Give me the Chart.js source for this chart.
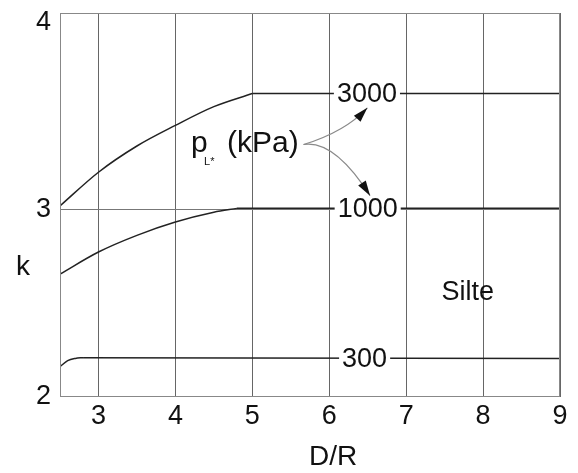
<!DOCTYPE html>
<html>
<head>
<meta charset="utf-8">
<script src="https://cdn.jsdelivr.net/npm/chart.js@4.4.0/dist/chart.umd.min.js"></script>
<style>
  html, body { margin: 0; padding: 0; background: #fff; }
  #wrap { width: 578px; height: 473px; }
</style>
</head>
<body>
<div id="wrap"><canvas id="myChart" width="578" height="473"></canvas></div>
<script>
// curves (D/R -> k); last two points of each are the flat part
var dr3000 = [2.5, 3, 3.5, 4, 4.5, 5, 9];
var k3000 = [3.02, 3.20, 3.34, 3.45, 3.55, 3.62, 3.62];
var dr1000 = [2.5, 3, 3.5, 4, 4.5, 4.8, 9];
var k1000 = [2.656, 2.774, 2.863, 2.934, 2.986, 3.007, 3.007];
var dr300 = [2.5, 2.6, 2.7, 2.8, 9];
var k300 = [2.162, 2.194, 2.206, 2.210, 2.205];

var xTicks = [3, 4, 5, 6, 7, 8, 9];
var yTicks = [2, 3, 4];

var curveNames = ['3000', '1000', '300'];
var labelAt = [6.49, 6.5, 6.46];

var FONT = '"Liberation Sans", Arial, sans-serif';

function pts(xs, ys) {
    return xs.map(function (v, i) { return {x: v, y: ys[i]}; });
}

function curve(xs, ys) {
    var n = xs.length;
    var all = pts(xs, ys);
    return [
        {data: all.slice(0, n - 1), cubicInterpolationMode: 'monotone'},
        {data: all.slice(n - 2)}
    ];
}

var sets = [].concat(curve(dr3000, k3000), curve(dr1000, k1000), curve(dr300, k300));
sets.forEach(function (s) {
    s.borderColor = '#222';
    s.borderWidth = 1.5;
    s.pointRadius = 0;
    s.fill = false;
});

function arrow(ctx, x0, y0, cx, cy, x1, y1) {
    ctx.strokeStyle = '#8a8a8a';
    ctx.lineWidth = 1.2;
    ctx.beginPath();
    ctx.moveTo(x0, y0);
    ctx.quadraticCurveTo(cx, cy, x1, y1);
    ctx.stroke();
    var a = Math.atan2(y1 - cy, x1 - cx);
    var len = 15, hw = 4.5;
    ctx.fillStyle = '#111';
    ctx.beginPath();
    ctx.moveTo(x1, y1);
    ctx.lineTo(x1 - len * Math.cos(a) + hw * Math.sin(a), y1 - len * Math.sin(a) - hw * Math.cos(a));
    ctx.lineTo(x1 - len * Math.cos(a) - hw * Math.sin(a), y1 - len * Math.sin(a) + hw * Math.cos(a));
    ctx.closePath();
    ctx.fill();
}

var overlay = {
    id: 'overlay',
    afterDatasetsDraw: function (chart) {
        var ctx = chart.ctx, a = chart.chartArea;
        var x = chart.scales.x, y = chart.scales.y;
        ctx.save();
        ctx.strokeStyle = '#888';
        ctx.lineWidth = 1;
        ctx.strokeRect(a.left + 0.5, a.top + 0.5, a.right - a.left - 1, a.bottom - a.top - 1);

        // values written on the flat part of each curve
        var flat = [k3000[k3000.length - 1], k1000[k1000.length - 1], k300[k300.length - 1]];
        ctx.font = '27px ' + FONT;
        ctx.textAlign = 'center';
        ctx.textBaseline = 'middle';
        curveNames.forEach(function (t, i) {
            var px = x.getPixelForValue(labelAt[i]);
            var py = y.getPixelForValue(flat[i]);
            var w = ctx.measureText(t).width + 6;
            ctx.fillStyle = '#fff';
            ctx.fillRect(px - w / 2, py - 13, w, 26);
            ctx.fillStyle = '#111';
            ctx.fillText(t, px, py + 1);
        });

        ctx.fillText('Silte', x.getPixelForValue(7.8), y.getPixelForValue(2.56));

        // p_L* (kPa)
        ctx.textAlign = 'left';
        ctx.textBaseline = 'alphabetic';
        var bx = x.getPixelForValue(5.66) - 112, by = y.getPixelForValue(3.31);
        ctx.font = '30px ' + FONT;
        ctx.fillText('p', bx, by);
        ctx.font = '11px ' + FONT;
        ctx.fillText('L*', bx + 13, by + 13);
        ctx.font = '30px ' + FONT;
        ctx.fillText('(kPa)', bx + 36, by);

        var sx = x.getPixelForValue(5.666), sy = y.getPixelForValue(3.348);
        arrow(ctx, sx, sy, x.getPixelForValue(6.21), y.getPixelForValue(3.417),
            x.getPixelForValue(6.496), y.getPixelForValue(3.544));
        arrow(ctx, sx, sy, x.getPixelForValue(6.066), y.getPixelForValue(3.374),
            x.getPixelForValue(6.531), y.getPixelForValue(3.075));

        // axis titles
        ctx.fillStyle = '#111';
        ctx.font = '28px ' + FONT;
        ctx.textAlign = 'center';
        ctx.textBaseline = 'middle';
        ctx.fillText('k', 23, y.getPixelForValue(2.69));
        ctx.fillText('D/R', x.getPixelForValue(6.05), 457);
        ctx.restore();
    }
};

var ctx = document.getElementById('myChart').getContext('2d');
var myChart = new Chart(ctx, {
    type: 'line',
    data: {datasets: sets},
    options: {
        responsive: false,
        animation: false,
        layout: {padding: {left: 0, right: 18, top: 13, bottom: 0}},
        plugins: {legend: {display: false}, tooltip: {enabled: false}},
        scales: {
            x: {
                type: 'linear',
                min: 2.5,
                max: 9,
                afterBuildTicks: function (s) { s.ticks = xTicks.map(function (v) { return {value: v}; }); },
                afterFit: function (s) { s.height = 76; s.paddingLeft = 0; s.paddingRight = 0; },
                grid: {color: '#666', lineWidth: 1, drawTicks: false},
                border: {display: false},
                ticks: {padding: 3, color: '#111', font: {family: FONT, size: 27}}
            },
            y: {
                min: 2,
                max: 4.05,
                afterBuildTicks: function (s) { s.ticks = yTicks.map(function (v) { return {value: v}; }); },
                afterFit: function (s) { s.width = 60; s.paddingTop = 0; s.paddingBottom = 0; },
                grid: {
                    color: function (c) { return c.tick && c.tick.value === 3 ? '#777' : 'rgba(0,0,0,0)'; },
                    lineWidth: 1,
                    drawTicks: false
                },
                border: {display: false},
                ticks: {padding: 9, color: '#111', font: {family: FONT, size: 27}}
            }
        }
    },
    plugins: [overlay]
});
</script>
</body>
</html>
